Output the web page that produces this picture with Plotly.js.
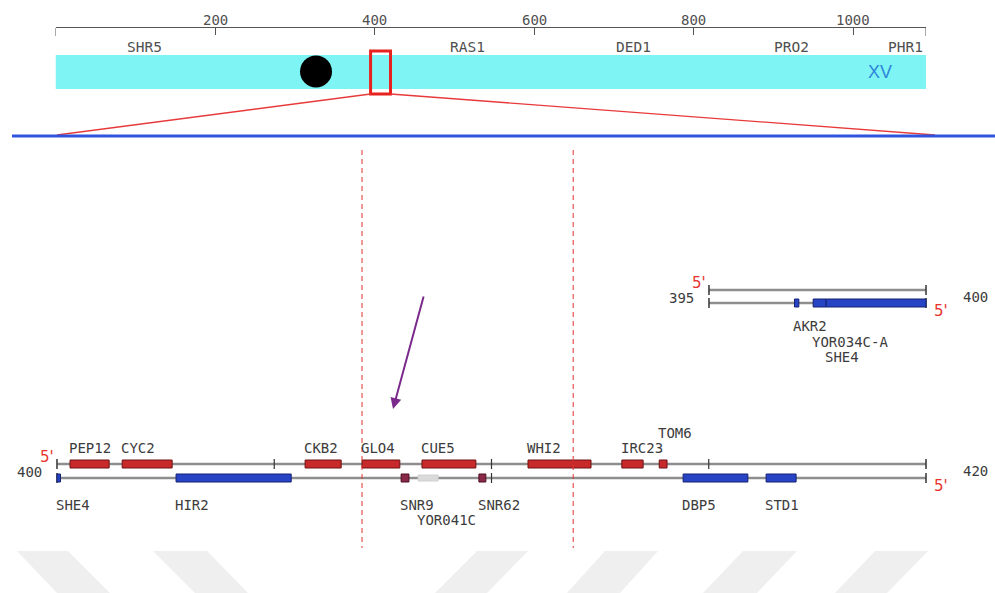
<!DOCTYPE html>
<html><head><meta charset="utf-8">
<script src="https://cdn.plot.ly/plotly-3.0.1.min.js"></script>
<style>html,body{margin:0;padding:0;background:#fff}#chart{width:995px;height:593px}</style>
</head><body><div id="chart"></div>
<script>
// ---------- Overview: chromosome XV ----------
const chrName = 'XV';
const chrLengthKb = 1091.3;
const centromereKb = 326.6;
const rulerTicksKb = [200, 400, 600, 800, 1000];
const landmarkGenes = ['SHR5', 'RAS1', 'DED1', 'PRO2', 'PHR1'];
const landmarkKb = [111.6, 517, 724, 923, 1066];
const zoomWindowKb = [395, 420];

// ---------- Small view 395-400 kb ----------
const smallRangeKb = [395, 400];
const smallGenes = ['AKR2', 'YOR034C-A', 'SHE4'];
const smallStart = [396.97, 397.40, 397.70];
const smallEnd = [397.07, 397.70, 400.00];
const smallStrand = ['C', 'C', 'C'];
const smallType = ['orf', 'orf', 'orf'];

// ---------- Main view 400-420 kb ----------
const mainRangeKb = [400, 420];
const mainGenes = ['PEP12', 'CYC2', 'CKB2', 'GLO4', 'CUE5', 'WHI2', 'IRC23', 'TOM6',
                   'SHE4', 'HIR2', 'SNR9', 'YOR041C', 'SNR62', 'DBP5', 'STD1'];
const mainStart = [400.30, 401.50, 405.71, 407.02, 408.40, 410.84, 413.00, 413.86,
                   400.00, 402.74, 407.92, 408.31, 409.71, 414.41, 416.32];
const mainEnd   = [401.20, 402.65, 406.54, 407.89, 409.64, 412.29, 413.49, 414.04,
                   400.08, 405.39, 408.10, 408.77, 409.87, 415.90, 417.01];
const mainStrand = ['W', 'W', 'W', 'W', 'W', 'W', 'W', 'W',
                    'C', 'C', 'C', 'C', 'C', 'C', 'C'];
const mainType = ['orf', 'orf', 'orf', 'orf', 'orf', 'orf', 'orf', 'orf',
                  'orf', 'orf', 'rna', 'dubious', 'rna', 'orf', 'orf'];
const mainTicksTopKb = [405, 410, 415];
const mainTicksBottomKb = [410];
const highlightKb = [407.02, 411.88];

// ---------- helpers (layout only) ----------
const W = 995, H = 593;
const pX = x => x / W;
const pY = y => 1 - y / H;
const MONO = 'DejaVu Sans Mono, Liberation Mono, monospace';
const TXT = '#3c3c3c';
const RED5 = '#e8322e';
const FS = 14;

const ovDom = [55.5, 926];          // overview x domain (px)
const mainDom = [48.3, 934.7];      // main view domain (px)
const mainRange = [mainRangeKb[0] - 0.2, mainRangeKb[1] + 0.2];
const smallDom = [700.3, 934.7];
const smallRange = [smallRangeKb[0] - 0.2, smallRangeKb[1] + 0.2];

const shapes = [];
const annotations = [];
const traces = [];

// watermark chevrons
[[17,68,57,110],[153,207,195,248],[477,528,435,487],[605,658,567,620],[743,797,703,757],[875,928,835,887]].forEach(b => {
  shapes.push({type:'path', xref:'paper', yref:'paper', layer:'below', line:{width:0}, fillcolor:'#efefef',
    path:`M${pX(b[0])},${pY(551)} L${pX(b[1])},${pY(551)} L${pX(b[3])},${pY(593)} L${pX(b[2])},${pY(593)} Z`});
});

// overview chromosome band
shapes.push({type:'rect', xref:'x', yref:'y', x0:0, x1:chrLengthKb, y0:55, y1:89, fillcolor:'#7ef4f4', line:{width:0}, layer:'below'});
// ruler end ticks
[0, chrLengthKb].forEach(v => shapes.push({type:'line', xref:'x', yref:'y', x0:v, x1:v, y0:28, y1:36, line:{color:'#555', width:1}}));
// ruler tick labels
rulerTicksKb.forEach(v => annotations.push({xref:'x', yref:'paper', x:v, y:pY(20.5), text:String(v), showarrow:false,
  xanchor:'center', yanchor:'middle', font:{family:MONO, size:14, color:'#505050'}}));
// centromere
shapes.push({type:'circle', xref:'x', yref:'y', xsizemode:'pixel', ysizemode:'pixel', xanchor:centromereKb, yanchor:71.5,
  x0:-16, x1:16, y0:-16, y1:16, fillcolor:'#000', line:{color:'#000', width:0}});
// zoom window box
shapes.push({type:'rect', xref:'x', yref:'y', x0:zoomWindowKb[0], x1:zoomWindowKb[1], y0:51, y1:94, line:{color:'#e8221e', width:3}, fillcolor:'rgba(0,0,0,0)'});
// zoom lines to detail view
const ovScale = (ovDom[1] - ovDom[0]) / chrLengthKb;
const kbToOvPx = v => ovDom[0] + v * ovScale;
shapes.push({type:'line', xref:'paper', yref:'paper', x0:pX(kbToOvPx(zoomWindowKb[0])), y0:pY(94), x1:pX(57), y1:pY(135), line:{color:'#e83a3a', width:1.3}});
shapes.push({type:'line', xref:'paper', yref:'paper', x0:pX(kbToOvPx(zoomWindowKb[1])), y0:pY(94), x1:pX(935), y1:pY(135), line:{color:'#e83a3a', width:1.3}});
// blue separator line
shapes.push({type:'line', xref:'paper', yref:'paper', x0:pX(12), x1:1, y0:pY(136), y1:pY(136), line:{color:'#2f55e0', width:3}});

// landmark labels
landmarkGenes.forEach((g, i) => annotations.push({xref:'x', yref:'y', x:landmarkKb[i], y:47, text:g, showarrow:false,
  xanchor:'center', yanchor:'middle', font:{family:MONO, size:14.5, color:'#505050'}}));
annotations.push({xref:'x', yref:'y', x:1034, y:72, text:chrName, showarrow:false, xanchor:'center', yanchor:'middle',
  font:{family:'Liberation Sans, Arial, sans-serif', size:18, color:'#2e86d8'}});

// ---------- track drawing ----------
function styleFor(strand, type) {
  if (type === 'rna') return {fill:'#8a2848', line:'#4a0f22', h:8};
  if (type === 'dubious') return {fill:'#dadada', line:'#d0d0d0', h:6};
  if (strand === 'W') return {fill:'#c8292b', line:'#701212', h:8};
  return {fill:'#2644c4', line:'#142172', h:8};
}

function drawTrack(opts) {
  const {xref, range, names, starts, ends, strands, types, yW, yC, pxPerKb, labelTopOff, labelBotOff, rowGap, ticksTop, ticksBot} = opts;
  [yW, yC].forEach(y => traces.push({type:'scatter', mode:'lines', x:[range[0], range[1]], y:[y, y],
    xaxis:xref, yaxis:'y3', line:{color:'#8e8e8e', width:2.5}, hoverinfo:'skip', showlegend:false}));
  [range[0], range[1]].forEach(v => [yW, yC].forEach(y => shapes.push({type:'line', xref:xref, yref:'y3', x0:v, x1:v, y0:y-5, y1:y+5, line:{color:'#333', width:1.5}})));
  (ticksTop||[]).forEach(v => shapes.push({type:'line', xref:xref, yref:'y3', x0:v, x1:v, y0:yW-5, y1:yW+5, line:{color:'#333', width:1.2}}));
  (ticksBot||[]).forEach(v => shapes.push({type:'line', xref:xref, yref:'y3', x0:v, x1:v, y0:yC-5, y1:yC+5, line:{color:'#333', width:1.2}}));
  names.forEach((g, i) => {
    const st = styleFor(strands[i], types[i]);
    const y = strands[i] === 'W' ? yW : yC;
    shapes.push({type:'rect', xref:xref, yref:'y3', x0:starts[i], x1:ends[i], y0:y - st.h/2, y1:y + st.h/2,
      fillcolor:st.fill, line:{color:st.line, width:1}});
  });
  const charW = 8.5;
  ['W', 'C'].forEach(s => {
    const idx = names.map((_, i) => i).filter(i => strands[i] === s).sort((a, b) => starts[a] - starts[b]);
    const rowEnds = [];
    idx.forEach(i => {
      const sPx = (starts[i] - range[0]) * pxPerKb;
      const ePx = sPx + names[i].length * charW + 4;
      let r = 0;
      while (r < rowEnds.length && rowEnds[r] > sPx) r++;
      rowEnds[r] = ePx;
      const y = s === 'W' ? yW - labelTopOff - rowGap * r : yC + labelBotOff + rowGap * r;
      annotations.push({xref:xref, yref:'y3', x:starts[i], y:y, text:names[i], showarrow:false,
        xanchor:'left', yanchor:'middle', xshift:-2, borderpad:0, font:{family:MONO, size:FS, color:TXT}});
    });
  });
}

const mainScale = (mainDom[1] - mainDom[0]) / (mainRange[1] - mainRange[0]);
const smallScale = (smallDom[1] - smallDom[0]) / (smallRange[1] - smallRange[0]);

drawTrack({xref:'x3', range:mainRangeKb, names:mainGenes, starts:mainStart, ends:mainEnd, strands:mainStrand, types:mainType,
  yW:464, yC:478, pxPerKb:mainScale, labelTopOff:16, labelBotOff:27, rowGap:15, ticksTop:mainTicksTopKb, ticksBot:mainTicksBottomKb});
drawTrack({xref:'x2', range:smallRangeKb, names:smallGenes, starts:smallStart, ends:smallEnd, strands:smallStrand, types:smallType,
  yW:290, yC:303, pxPerKb:smallScale, labelTopOff:16, labelBotOff:23, rowGap:15.5});

function endLabels(xref, range, yW, yC) {
  annotations.push({xref, yref:'y3', x:range[0], y:(yW+yC)/2 + 1, text:String(range[0]), showarrow:false, xanchor:'right', xshift:-13, yanchor:'middle', font:{family:MONO, size:FS, color:TXT}});
  annotations.push({xref, yref:'y3', x:range[1], y:(yW+yC)/2, text:String(range[1]), showarrow:false, xanchor:'left', xshift:35, yanchor:'middle', font:{family:MONO, size:FS, color:TXT}});
  annotations.push({xref, yref:'y3', x:range[0], y:yW - 7, text:"5'", showarrow:false, xanchor:'right', xshift:-1, yanchor:'middle', font:{family:'DejaVu Sans, sans-serif', size:15, color:RED5}});
  annotations.push({xref, yref:'y3', x:range[1], y:yC + 8, text:"5'", showarrow:false, xanchor:'left', xshift:6, yanchor:'middle', font:{family:'DejaVu Sans, sans-serif', size:15, color:RED5}});
}
endLabels('x3', mainRangeKb, 464, 478);
endLabels('x2', smallRangeKb, 290, 303);

highlightKb.forEach(v => shapes.push({type:'line', xref:'x3', yref:'y3', x0:v, x1:v, y0:150, y1:548, line:{color:'#e0352f', width:1, dash:'5px,4px'}}));

annotations.push({xref:'paper', yref:'paper', x:pX(393), y:pY(409), ax:31, ay:-114, text:'', showarrow:true,
  arrowhead:2, arrowsize:1.1, arrowwidth:2, arrowcolor:'#7b2a8c'});

const layout = {
  width: W, height: H,
  margin: {l:0, r:0, t:0, b:0},
  paper_bgcolor: '#fff', plot_bgcolor: 'rgba(0,0,0,0)',
  showlegend: false,
  xaxis: {domain:[pX(ovDom[0]), pX(ovDom[1])], range:[0, chrLengthKb], anchor:'y', side:'top',
    showline:true, linecolor:'#555', linewidth:1, ticks:'inside', ticklen:7, tickcolor:'#555', tickwidth:1,
    tickvals: rulerTicksKb, showticklabels:false, showgrid:false, zeroline:false, fixedrange:true},
  yaxis: {domain:[pY(100), pY(28)], range:[100, 28], visible:false, fixedrange:true},
  xaxis2: {domain:[pX(smallDom[0]), pX(smallDom[1])], range:smallRange, anchor:'y3', visible:false, fixedrange:true},
  xaxis3: {domain:[pX(mainDom[0]), pX(mainDom[1])], range:mainRange, anchor:'y3', visible:false, fixedrange:true},
  yaxis3: {domain:[pY(560), pY(140)], range:[560, 140], anchor:'x3', visible:false, fixedrange:true},
  shapes, annotations
};
traces.push({type:'scatter', mode:'markers', x:[], y:[], xaxis:'x', yaxis:'y', showlegend:false, hoverinfo:'skip'});

Plotly.newPlot('chart', traces, layout, {staticPlot:true, displayModeBar:false});
</script>
</body></html>
